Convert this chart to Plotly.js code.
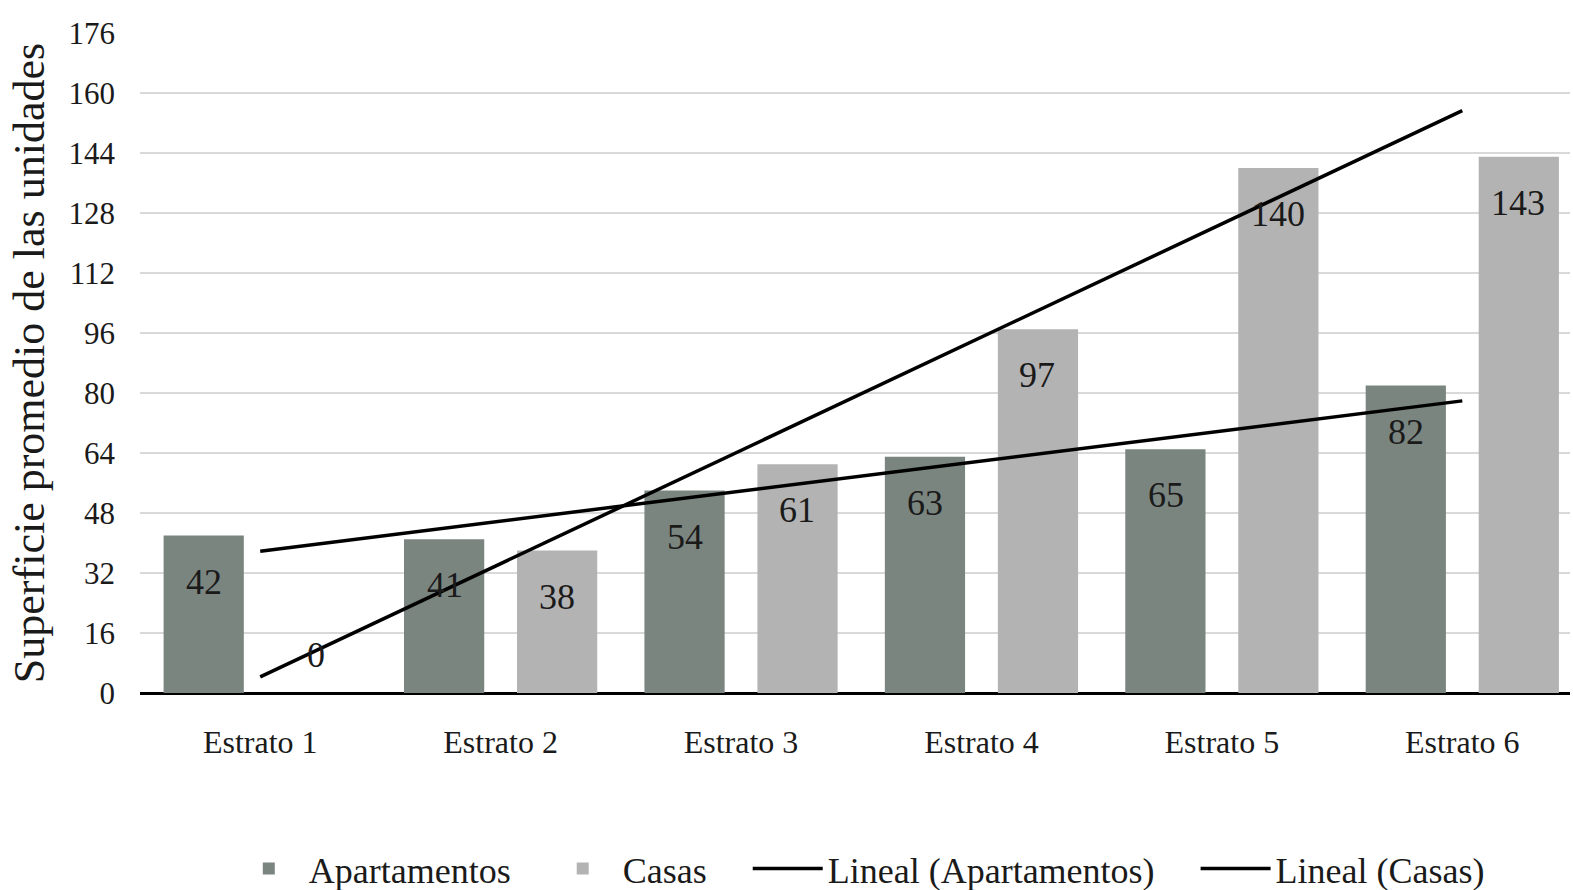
<!DOCTYPE html>
<html>
<head>
<meta charset="utf-8">
<script src="https://cdn.plot.ly/plotly-3.0.1.min.js"></script>
<style>html,body{margin:0;padding:0;background:#fff;}#chart{width:1573px;height:890px;}</style>
</head>
<body>
<div id="chart"></div>
<script>
const categories = ['Estrato 1','Estrato 2','Estrato 3','Estrato 4','Estrato 5','Estrato 6'];
const apartamentos = [42, 41, 54, 63, 65, 82];
const casas = [0, 38, 61, 97, 140, 143];
const trendX = ['Estrato 1', 'Estrato 6'];
const trendApartamentos = [37.8, 77.9];
const trendCasas = [4.3, 155.3];
const yTicks = [0, 16, 32, 48, 64, 80, 96, 112, 128, 144, 160, 176];
const seriesNames = ['Apartamentos', 'Casas', 'Lineal (Apartamentos)', 'Lineal (Casas)'];

const serif = 'Liberation Serif, Times New Roman, serif';
const colApt = '#7b8580';
const colCas = '#b3b3b3';
const pad = n => '\u00a0'.repeat(n);

const traces = [
  {type:'bar', name:seriesNames[0] + pad(3), x:categories, y:apartamentos, marker:{color:colApt}, hoverinfo:'none'},
  {type:'bar', name:seriesNames[1] + pad(4), x:categories, y:casas, marker:{color:colCas}, hoverinfo:'none'},
  {type:'scatter', mode:'lines', name:seriesNames[2] + pad(4), x:trendX, y:trendApartamentos, line:{color:'#000', width:3.5}, hoverinfo:'none'},
  {type:'scatter', mode:'lines', name:seriesNames[3], x:trendX, y:trendCasas, line:{color:'#000', width:3.5}, hoverinfo:'none'}
];

const annotations = [];
function addLabels(vals, shift){
  vals.forEach((v,i)=>{
    annotations.push({x:categories[i], y:v, xref:'x', yref:'y', text:String(v), showarrow:false,
      xshift:shift, yshift: v>0 ? -46 : 38, yanchor:'middle', xanchor:'center',
      font:{family:serif, size:36, color:'#1a1a1a'}});
  });
}
addLabels(apartamentos, -56);
addLabels(casas, 56);

const layout = {
  width:1573, height:890,
  margin:{l:140, r:3, t:33, b:197, autoexpand:false},
  paper_bgcolor:'#fff', plot_bgcolor:'#fff',
  barmode:'group', bargap:0.06, bargroupgap:0.29,
  showlegend:true,
  legend:{orientation:'h', x:0.503, xanchor:'center', yref:'container', y:0.024, yanchor:'middle',
    font:{family:serif, size:36, color:'#1a1a1a'}, tracegroupgap:0, itemwidth:70,
    traceorder:'normal'},
  xaxis:{type:'category', range:[-0.5, 5.448], showgrid:false, zeroline:false,
    showline:false, ticks:'', ticklabelstandoff:27,
    tickfont:{family:serif, size:32, color:'#1a1a1a'}},
  yaxis:{range:[0,176], tickvals:yTicks, ticktext:yTicks.map(String), showgrid:true,
    gridcolor:'#d9d9d9', gridwidth:2, zeroline:true, zerolinecolor:'#000', zerolinewidth:3,
    showline:false, ticks:'', ticklabelstandoff:24,
    tickfont:{family:serif, size:31, color:'#1a1a1a'},
    title:{text:'Superficie promedio de las unidades', standoff:10,
      font:{family:serif, size:44, color:'#1a1a1a'}}},
  annotations:annotations
};

Plotly.newPlot('chart', traces, layout, {displayModeBar:false, staticPlot:true});
</script>
</body>
</html>
